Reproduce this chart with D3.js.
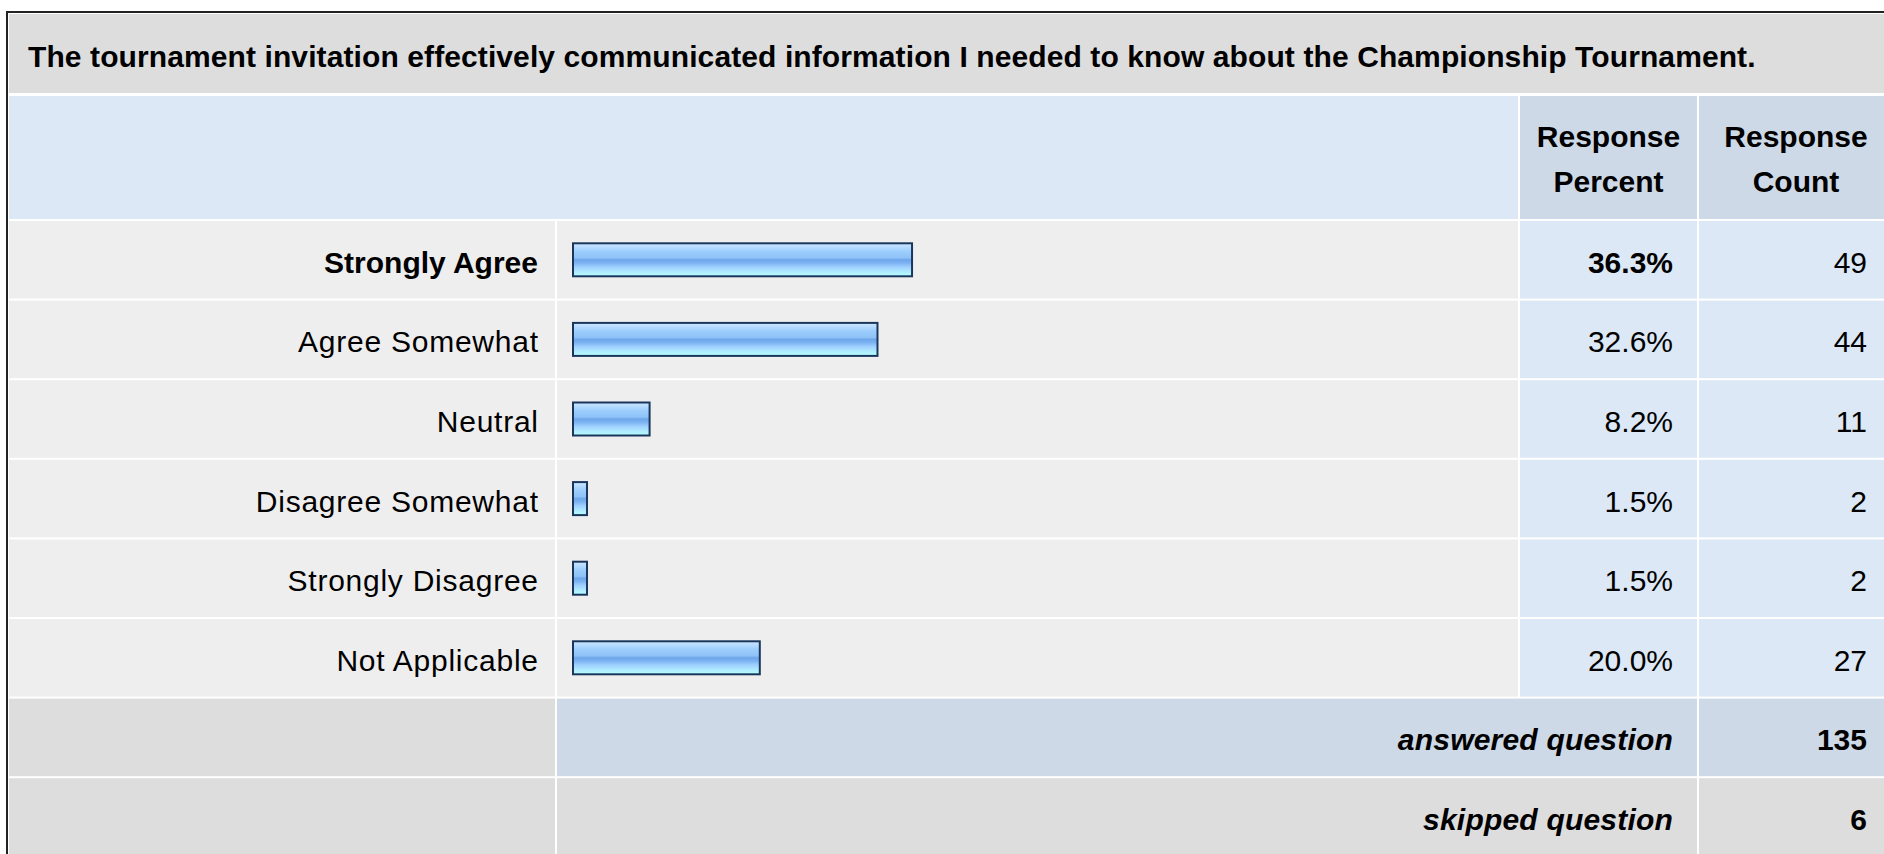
<meta charset="utf-8">
<script src="https://d3js.org/d3.v7.min.js"></script>
<style>
  body { margin: 0; background: #fff; }
  text { font-family: "Liberation Sans", Arial, sans-serif; fill: #000; }
</style>
<div id="surveyTable"></div>
<script>

// question and answers
var questionTitle = "The tournament invitation effectively communicated information I needed to know about the Championship Tournament.";
var answerOptions = ["Strongly Agree", "Agree Somewhat", "Neutral", "Disagree Somewhat", "Strongly Disagree", "Not Applicable"];
var responsePercent = [36.3, 32.6, 8.2, 1.5, 1.5, 20.0];
var responseCount = [49, 44, 11, 2, 2, 27];
var headerLabels = [["Response", "Percent"], ["Response", "Count"]];
var summaryLabels = ["answered question", "skipped question"];
var summaryCounts = [135, 6];

var width = 1884, height = 854;
var fontSize = 30;

// column edges
var col = {
  label: [9, 555],
  bar: [557, 1518],
  pct: [1520, 1697],
  cnt: [1699, 1892]
};
var rowTop0 = 221, rowPitch = 79.6, rowH = 77.6;

var svg = d3.select("#surveyTable")
  .append("svg")
    .attr("width", width)
    .attr("height", height);

// bar gradient
var grad = svg.append("defs").append("linearGradient")
    .attr("id", "barGrad")
    .attr("x1", 0).attr("y1", 0).attr("x2", 0).attr("y2", 1);
[[0, "#cfe7ff"], [0.12, "#b5dbff"], [0.25, "#9ccdfc"], [0.44, "#8fc2f8"],
 [0.5, "#6ea6ea"], [0.6, "#7cb3f2"], [0.72, "#9fd0ff"], [0.86, "#aeeaff"], [1, "#b6ffff"]]
  .forEach(function(s) {
    grad.append("stop").attr("offset", s[0]).attr("stop-color", s[1]);
  });

function cell(x0, x1, y0, h, fill) {
  svg.append("rect")
    .attr("x", x0).attr("y", y0)
    .attr("width", x1 - x0).attr("height", h)
    .attr("fill", fill);
}

// title row
cell(col.label[0], width, 14, 79, "#dddddd");
svg.append("text")
    .attr("x", 28)
    .attr("y", 67)
    .style("font-size", "30px")
    .style("font-weight", "bold")
    .style("letter-spacing", "0.1px")
    .text(questionTitle);

// header row
cell(col.label[0], col.bar[1], 96, 123, "#dce8f5");
cell(col.pct[0], col.pct[1], 96, 123, "#cdd9e6");
cell(col.cnt[0], col.cnt[1], 96, 123, "#cdd9e6");
[col.pct, col.cnt].forEach(function(c, i) {
  var t = svg.append("text")
      .attr("text-anchor", "middle")
      .style("font-size", fontSize + "px")
      .style("font-weight", "bold");
  var cx = i == 0 ? (c[0] + c[1]) / 2 : 1796;
  t.append("tspan").attr("x", cx).attr("y", 147).text(headerLabels[i][0]);
  t.append("tspan").attr("x", cx).attr("y", 192).text(headerLabels[i][1]);
});

// bar scale
var x = d3.scaleLinear()
  .domain([0, 100])
  .range([0, 934]);

var maxPct = d3.max(responsePercent);

answerOptions.forEach(function(label, i) {
  var y0 = rowTop0 + i * rowPitch;
  var cy = y0 + rowH / 2;
  var isMax = responsePercent[i] == maxPct;
  var bold = isMax ? "bold" : "normal";

  cell(col.label[0], col.label[1], y0, rowH, "#eeeeee");
  cell(col.bar[0], col.bar[1], y0, rowH, "#eeeeee");
  cell(col.pct[0], col.pct[1], y0, rowH, "#dce8f5");
  cell(col.cnt[0], col.cnt[1], y0, rowH, "#dce8f5");

  // regular labels in the original run a little wider
  svg.append("text")
      .attr("x", col.label[1] - 17 + (isMax ? 0 : 0.75))
      .attr("y", cy + 13)
      .attr("text-anchor", "end")
      .style("font-size", fontSize + "px")
      .style("font-weight", bold)
      .style("letter-spacing", isMax ? "0px" : "0.75px")
      .text(label);

  svg.append("rect")
      .attr("x", 573)
      .attr("y", cy - 16.5)
      .attr("width", x(responsePercent[i]))
      .attr("height", 33)
      .attr("fill", "url(#barGrad)")
      .attr("stroke", "#1b365d")
      .attr("stroke-width", 2);

  svg.append("text")
      .attr("x", col.pct[1] - 24)
      .attr("y", cy + 13)
      .attr("text-anchor", "end")
      .style("font-size", fontSize + "px")
      .style("font-weight", bold)
      .text(responsePercent[i].toFixed(1) + "%");

  svg.append("text")
      .attr("x", col.cnt[1] - 25)
      .attr("y", cy + 13)
      .attr("text-anchor", "end")
      .style("font-size", fontSize + "px")
      .text(responseCount[i]);
});

// answered / skipped rows
summaryLabels.forEach(function(label, j) {
  var y0 = rowTop0 + (answerOptions.length + j) * rowPitch;
  var cy = y0 + rowH / 2;
  var fill = j == 0 ? "#cdd9e6" : "#dddddd";
  cell(col.label[0], col.label[1], y0, rowH, "#dddddd");
  cell(col.bar[0], col.pct[1], y0, rowH, fill);
  cell(col.cnt[0], col.cnt[1], y0, rowH, fill);

  svg.append("text")
      .attr("x", col.pct[1] - 24)
      .attr("y", cy + 13)
      .attr("text-anchor", "end")
      .style("font-size", fontSize + "px")
      .style("font-weight", "bold")
      .style("font-style", "italic")
      .style("letter-spacing", "0.2px")
      .text(label);

  svg.append("text")
      .attr("x", col.cnt[1] - 25)
      .attr("y", cy + 13)
      .attr("text-anchor", "end")
      .style("font-size", fontSize + "px")
      .style("font-weight", "bold")
      .text(summaryCounts[j]);
});

// outer frame (top and left edges)
svg.append("path")
    .attr("d", "M7," + height + "V12H" + width)
    .attr("fill", "none")
    .attr("stroke", "#222")
    .attr("stroke-width", 2);

</script>
